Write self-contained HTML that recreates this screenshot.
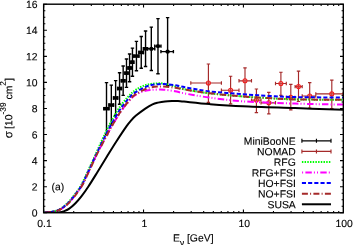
<!DOCTYPE html>
<html><head><meta charset="utf-8"><title>plot</title>
<style>html,body{margin:0;padding:0;background:#fff;width:353px;height:245px;overflow:hidden}
body{font-family:"Liberation Sans",sans-serif;position:relative}</style></head>
<body>
<svg width="353" height="245" viewBox="0 0 353 245" style="display:block;position:absolute;left:0;top:0">
<rect x="0" y="0" width="353" height="245" fill="#fff"/>
<defs><clipPath id="c"><rect x="43.65" y="4.20" width="299.65" height="208.55"/></clipPath></defs>
<path d="M43.65 212.75 h3.30 M343.30 212.75 h-3.30 M43.65 206.23 h1.70 M343.30 206.23 h-1.70 M43.65 199.72 h1.70 M343.30 199.72 h-1.70 M43.65 193.20 h1.70 M343.30 193.20 h-1.70 M43.65 186.68 h3.30 M343.30 186.68 h-3.30 M43.65 180.16 h1.70 M343.30 180.16 h-1.70 M43.65 173.65 h1.70 M343.30 173.65 h-1.70 M43.65 167.13 h1.70 M343.30 167.13 h-1.70 M43.65 160.61 h3.30 M343.30 160.61 h-3.30 M43.65 154.10 h1.70 M343.30 154.10 h-1.70 M43.65 147.58 h1.70 M343.30 147.58 h-1.70 M43.65 141.06 h1.70 M343.30 141.06 h-1.70 M43.65 134.54 h3.30 M343.30 134.54 h-3.30 M43.65 128.03 h1.70 M343.30 128.03 h-1.70 M43.65 121.51 h1.70 M343.30 121.51 h-1.70 M43.65 114.99 h1.70 M343.30 114.99 h-1.70 M43.65 108.47 h3.30 M343.30 108.47 h-3.30 M43.65 101.96 h1.70 M343.30 101.96 h-1.70 M43.65 95.44 h1.70 M343.30 95.44 h-1.70 M43.65 88.92 h1.70 M343.30 88.92 h-1.70 M43.65 82.41 h3.30 M343.30 82.41 h-3.30 M43.65 75.89 h1.70 M343.30 75.89 h-1.70 M43.65 69.37 h1.70 M343.30 69.37 h-1.70 M43.65 62.85 h1.70 M343.30 62.85 h-1.70 M43.65 56.34 h3.30 M343.30 56.34 h-3.30 M43.65 49.82 h1.70 M343.30 49.82 h-1.70 M43.65 43.30 h1.70 M343.30 43.30 h-1.70 M43.65 36.79 h1.70 M343.30 36.79 h-1.70 M43.65 30.27 h3.30 M343.30 30.27 h-3.30 M43.65 23.75 h1.70 M343.30 23.75 h-1.70 M43.65 17.23 h1.70 M343.30 17.23 h-1.70 M43.65 10.72 h1.70 M343.30 10.72 h-1.70 M43.65 4.20 h3.30 M343.30 4.20 h-3.30 M43.65 212.75 v-3.30 M43.65 4.20 v3.30 M73.72 212.75 v-1.70 M73.72 4.20 v1.70 M91.31 212.75 v-1.70 M91.31 4.20 v1.70 M103.79 212.75 v-1.70 M103.79 4.20 v1.70 M113.47 212.75 v-1.70 M113.47 4.20 v1.70 M121.37 212.75 v-1.70 M121.37 4.20 v1.70 M128.06 212.75 v-1.70 M128.06 4.20 v1.70 M133.85 212.75 v-1.70 M133.85 4.20 v1.70 M138.96 212.75 v-1.70 M138.96 4.20 v1.70 M143.53 212.75 v-3.30 M143.53 4.20 v3.30 M173.60 212.75 v-1.70 M173.60 4.20 v1.70 M191.19 212.75 v-1.70 M191.19 4.20 v1.70 M203.67 212.75 v-1.70 M203.67 4.20 v1.70 M213.35 212.75 v-1.70 M213.35 4.20 v1.70 M221.26 212.75 v-1.70 M221.26 4.20 v1.70 M227.94 212.75 v-1.70 M227.94 4.20 v1.70 M233.74 212.75 v-1.70 M233.74 4.20 v1.70 M238.85 212.75 v-1.70 M238.85 4.20 v1.70 M243.42 212.75 v-3.30 M243.42 4.20 v3.30 M273.48 212.75 v-1.70 M273.48 4.20 v1.70 M291.07 212.75 v-1.70 M291.07 4.20 v1.70 M303.55 212.75 v-1.70 M303.55 4.20 v1.70 M313.23 212.75 v-1.70 M313.23 4.20 v1.70 M321.14 212.75 v-1.70 M321.14 4.20 v1.70 M327.83 212.75 v-1.70 M327.83 4.20 v1.70 M333.62 212.75 v-1.70 M333.62 4.20 v1.70 M338.73 212.75 v-1.70 M338.73 4.20 v1.70" stroke="#000" stroke-width="1.1" fill="none"/>
<g clip-path="url(#c)"><path d="M106.51 82.64 V134.70 M104.81 82.64 h3.40 M104.81 134.70 h3.40 M103.88 108.67 H108.99 M103.88 106.97 v3.40 M108.99 106.97 v3.40 M111.32 85.10 V125.04 M109.62 85.10 h3.40 M109.62 125.04 h3.40 M108.97 105.07 H113.54 M108.97 103.37 v3.40 M113.54 103.37 v3.40 M115.64 80.59 V115.27 M113.94 80.59 h3.40 M113.94 115.27 h3.40 M113.52 97.93 H117.65 M113.52 96.23 v3.40 M117.65 96.23 v3.40 M119.56 72.77 V104.29 M117.86 72.77 h3.40 M117.86 104.29 h3.40 M117.63 88.53 H121.41 M117.63 86.83 v3.40 M121.41 86.83 v3.40 M123.16 66.06 V95.36 M121.46 66.06 h3.40 M121.46 95.36 h3.40 M121.39 80.71 H124.86 M121.39 79.01 v3.40 M124.86 79.01 v3.40 M126.49 58.96 V87.35 M124.79 58.96 h3.40 M124.79 87.35 h3.40 M124.85 73.15 H128.06 M124.85 71.45 v3.40 M128.06 71.45 v3.40 M129.57 54.06 V81.82 M127.87 54.06 h3.40 M127.87 81.82 h3.40 M128.05 67.94 H131.04 M128.05 66.24 v3.40 M131.04 66.24 v3.40 M132.45 48.15 V76.25 M130.75 48.15 h3.40 M130.75 76.25 h3.40 M131.03 62.20 H133.83 M131.03 60.50 v3.40 M133.83 60.50 v3.40 M136.44 41.36 V70.79 M134.74 41.36 h3.40 M134.74 70.79 h3.40 M133.81 56.08 H138.92 M133.81 54.38 v3.40 M138.92 54.38 v3.40 M141.24 36.56 V68.29 M139.54 36.56 h3.40 M139.54 68.29 h3.40 M138.89 52.43 H143.46 M138.89 50.73 v3.40 M143.46 50.73 v3.40 M145.56 31.06 V66.49 M143.86 31.06 h3.40 M143.86 66.49 h3.40 M143.44 48.78 H147.58 M143.44 47.08 v3.40 M147.58 47.08 v3.40 M151.32 27.11 V70.44 M149.62 27.11 h3.40 M149.62 70.44 h3.40 M147.55 48.78 H154.80 M147.55 47.08 v3.40 M154.80 47.08 v3.40 M157.98 18.59 V73.75 M156.28 18.59 h3.40 M156.28 73.75 h3.40 M154.76 46.17 H160.97 M154.76 44.47 v3.40 M160.97 44.47 v3.40 M167.61 17.59 V85.70 M165.91 17.59 h3.40 M165.91 85.70 h3.40 M160.93 51.65 H173.40 M160.93 49.95 v3.40 M173.40 49.95 v3.40" stroke="#000" stroke-width="1.4" fill="none"/><g fill="#000"><rect x="103.28" y="106.92" width="6.31" height="3.5"/><rect x="108.37" y="103.32" width="5.77" height="3.5"/><rect x="112.92" y="96.18" width="5.33" height="3.5"/><rect x="117.03" y="86.78" width="4.97" height="3.5"/><rect x="120.79" y="78.96" width="4.67" height="3.5"/><rect x="124.25" y="71.40" width="4.41" height="3.5"/><rect x="127.45" y="66.19" width="4.19" height="3.5"/><rect x="130.43" y="60.45" width="4.00" height="3.5"/><rect x="133.21" y="54.33" width="6.31" height="3.5"/><rect x="138.29" y="50.68" width="5.77" height="3.5"/><rect x="142.84" y="47.03" width="5.33" height="3.5"/><rect x="149.37" y="46.93" width="3.9" height="3.7" rx="1.2"/><rect x="156.03" y="44.32" width="3.9" height="3.7" rx="1.2"/><rect x="165.66" y="49.80" width="3.9" height="3.7" rx="1.2"/></g></g>
<g clip-path="url(#c)"><path d="M208.40 64.00 V102.30 M206.70 64.00 h3.40 M206.70 102.30 h3.40 M190.80 83.00 H221.40 M190.80 81.30 v3.40 M221.40 81.30 v3.40 M230.60 76.20 V103.80 M228.90 76.20 h3.40 M228.90 103.80 h3.40 M221.40 90.20 H239.00 M221.40 88.50 v3.40 M239.00 88.50 v3.40 M245.00 67.90 V94.80 M243.30 67.90 h3.40 M243.30 94.80 h3.40 M239.00 80.80 H251.50 M239.00 79.10 v3.40 M251.50 79.10 v3.40 M256.40 89.00 V112.60 M254.70 89.00 h3.40 M254.70 112.60 h3.40 M251.50 100.10 H261.00 M251.50 98.40 v3.40 M261.00 98.40 v3.40 M268.80 92.40 V113.80 M267.10 92.40 h3.40 M267.10 113.80 h3.40 M261.00 102.80 H275.50 M261.00 101.10 v3.40 M275.50 101.10 v3.40 M280.90 72.20 V95.40 M279.20 72.20 h3.40 M279.20 95.40 h3.40 M275.50 83.50 H286.30 M275.50 81.80 v3.40 M286.30 81.80 v3.40 M290.80 84.30 V109.80 M289.10 84.30 h3.40 M289.10 109.80 h3.40 M286.30 97.40 H294.90 M286.30 95.70 v3.40 M294.90 95.70 v3.40 M298.50 71.10 V101.50 M296.80 71.10 h3.40 M296.80 101.50 h3.40 M295.10 86.60 H302.20 M295.10 84.90 v3.40 M302.20 84.90 v3.40 M309.70 82.60 V108.00 M308.00 82.60 h3.40 M308.00 108.00 h3.40 M302.20 96.00 H315.80 M302.20 94.30 v3.40 M315.80 94.30 v3.40 M331.80 80.10 V108.60 M330.10 80.10 h3.40 M330.10 108.60 h3.40 M315.80 93.90 H343.00 M315.80 92.20 v3.40 M343.00 92.20 v3.40" stroke="#a52a2a" stroke-width="1.15" fill="none"/>
<g stroke="#ee2020" stroke-width="1.1" fill="#ff6060" fill-opacity="0.35"><circle cx="208.40" cy="83.00" r="2.0"/><circle cx="230.60" cy="90.20" r="2.0"/><circle cx="245.00" cy="80.80" r="2.0"/><circle cx="256.40" cy="100.10" r="2.0"/><circle cx="268.80" cy="102.80" r="2.0"/><circle cx="280.90" cy="83.50" r="2.0"/><circle cx="290.80" cy="97.40" r="2.0"/><circle cx="298.50" cy="86.60" r="2.0"/><circle cx="309.70" cy="96.00" r="2.0"/><circle cx="331.80" cy="93.90" r="2.0"/></g></g>
<g clip-path="url(#c)" fill="none" stroke-width="2">
<path d="M43.85 212.50 C44.91 212.42 48.09 212.32 50.20 212.00 C52.31 211.68 54.42 211.40 56.50 210.60 C58.58 209.80 60.63 208.70 62.70 207.20 C64.77 205.70 66.82 203.83 68.90 201.60 C70.98 199.37 73.15 196.55 75.20 193.80 C77.25 191.05 79.07 188.92 81.20 185.10 C83.33 181.28 85.70 175.78 88.00 170.90 C90.30 166.02 92.73 160.78 95.00 155.80 C97.27 150.82 99.30 145.97 101.60 141.00 C103.90 136.03 106.20 131.00 108.80 126.00 C111.40 121.00 114.88 114.83 117.20 111.00 C119.52 107.17 120.87 105.40 122.70 103.00 C124.53 100.60 126.48 98.45 128.20 96.60 C129.92 94.75 131.25 93.33 133.00 91.90 C134.75 90.47 136.72 89.10 138.70 88.00 C140.68 86.90 142.82 85.98 144.90 85.30 C146.98 84.62 149.12 84.22 151.20 83.90 C153.28 83.58 155.27 83.43 157.40 83.40 C159.53 83.37 161.07 83.20 164.00 83.70 C166.93 84.20 171.50 85.45 175.00 86.40 C178.50 87.35 179.23 88.25 185.00 89.40 C190.77 90.55 199.93 92.12 209.60 93.30 C219.27 94.48 233.27 95.70 243.00 96.50 C252.73 97.30 259.33 97.62 268.00 98.10 C276.67 98.58 282.45 99.12 295.00 99.40 C307.55 99.68 335.25 99.73 343.30 99.80" stroke="#00ff00" stroke-dasharray="1.45 1.25"/>
<path d="M44.85 212.50 C45.91 212.42 49.09 212.32 51.20 212.00 C53.31 211.68 55.42 211.40 57.50 210.60 C59.58 209.80 61.63 208.70 63.70 207.20 C65.77 205.70 67.82 203.83 69.90 201.60 C71.98 199.37 74.15 196.55 76.20 193.80 C78.25 191.05 80.07 188.92 82.20 185.10 C84.33 181.28 86.70 175.78 89.00 170.90 C91.30 166.02 93.55 160.77 96.00 155.80 C98.45 150.83 101.07 146.03 103.70 141.10 C106.33 136.17 108.92 131.17 111.80 126.20 C114.68 121.23 118.43 115.10 121.00 111.30 C123.57 107.50 125.17 105.85 127.20 103.40 C129.23 100.95 131.15 98.37 133.20 96.60 C135.25 94.83 137.30 93.82 139.50 92.80 C141.70 91.78 144.45 90.98 146.40 90.50 C148.35 90.02 149.37 90.05 151.20 89.90 C153.03 89.75 155.27 89.63 157.40 89.60 C159.53 89.57 161.07 89.43 164.00 89.70 C166.93 89.97 171.50 90.57 175.00 91.20 C178.50 91.83 179.23 92.43 185.00 93.50 C190.77 94.57 199.93 96.30 209.60 97.60 C219.27 98.90 228.77 100.30 243.00 101.30 C257.23 102.30 278.28 103.05 295.00 103.60 C311.72 104.15 335.25 104.43 343.30 104.60" stroke="#ff00ff" stroke-dasharray="6.4 2.1 1 2.1 1 2.3"/>
<path d="M44.45 212.50 C45.51 212.42 48.69 212.32 50.80 212.00 C52.91 211.68 55.02 211.40 57.10 210.60 C59.18 209.80 61.23 208.70 63.30 207.20 C65.37 205.70 67.42 203.83 69.50 201.60 C71.58 199.37 73.75 196.55 75.80 193.80 C77.85 191.05 79.67 188.92 81.80 185.10 C83.93 181.28 86.30 175.78 88.60 170.90 C90.90 166.02 93.25 160.78 95.60 155.80 C97.95 150.82 100.23 145.97 102.70 141.00 C105.17 136.03 107.67 131.00 110.40 126.00 C113.13 121.00 116.68 114.83 119.10 111.00 C121.52 107.17 122.98 105.47 124.90 103.00 C126.82 100.53 129.22 97.70 130.60 96.20 C131.98 94.70 131.72 95.05 133.20 94.00 C134.68 92.95 137.30 91.13 139.50 89.90 C141.70 88.67 144.45 87.40 146.40 86.60 C148.35 85.80 149.37 85.48 151.20 85.10 C153.03 84.72 155.27 84.47 157.40 84.30 C159.53 84.13 161.07 83.93 164.00 84.10 C166.93 84.27 171.50 84.77 175.00 85.30 C178.50 85.83 179.23 86.28 185.00 87.30 C190.77 88.32 199.93 90.25 209.60 91.40 C219.27 92.55 233.27 93.45 243.00 94.20 C252.73 94.95 259.33 95.42 268.00 95.90 C276.67 96.38 282.45 96.83 295.00 97.10 C307.55 97.37 335.25 97.43 343.30 97.50" stroke="#0000ff" stroke-dasharray="4.1 2.1"/>
<path d="M45.05 212.50 C46.11 212.42 49.29 212.32 51.40 212.00 C53.51 211.68 55.62 211.40 57.70 210.60 C59.78 209.80 61.83 208.70 63.90 207.20 C65.97 205.70 68.02 203.83 70.10 201.60 C72.18 199.37 74.35 196.55 76.40 193.80 C78.45 191.05 80.27 188.92 82.40 185.10 C84.53 181.28 86.90 175.78 89.20 170.90 C91.50 166.02 93.77 160.78 96.20 155.80 C98.63 150.82 101.18 145.97 103.80 141.00 C106.42 136.03 109.03 131.00 111.90 126.00 C114.77 121.00 118.47 114.83 121.00 111.00 C123.53 107.17 125.07 105.48 127.10 103.00 C129.13 100.52 131.13 97.92 133.20 96.10 C135.27 94.28 137.30 93.33 139.50 92.10 C141.70 90.87 144.45 89.50 146.40 88.70 C148.35 87.90 149.37 87.65 151.20 87.30 C153.03 86.95 155.27 86.73 157.40 86.60 C159.53 86.47 161.07 86.30 164.00 86.50 C166.93 86.70 171.50 87.30 175.00 87.80 C178.50 88.30 179.23 88.58 185.00 89.50 C190.77 90.42 199.93 92.13 209.60 93.30 C219.27 94.47 233.27 95.70 243.00 96.50 C252.73 97.30 259.33 97.62 268.00 98.10 C276.67 98.58 282.45 99.12 295.00 99.40 C307.55 99.68 335.25 99.73 343.30 99.80" stroke="#a52a2a" stroke-dasharray="6 2.2 1 2.3"/>
<path d="M43.85 212.75 C45.21 212.75 49.98 212.77 52.00 212.75 C54.02 212.73 54.67 212.72 56.00 212.65 C57.33 212.58 58.75 212.51 60.00 212.30 C61.25 212.09 62.02 211.97 63.50 211.40 C64.98 210.83 66.95 210.22 68.90 208.90 C70.85 207.58 73.12 205.58 75.20 203.50 C77.28 201.42 79.20 199.23 81.40 196.40 C83.60 193.57 85.72 190.57 88.40 186.50 C91.08 182.43 94.43 176.95 97.50 172.00 C100.57 167.05 103.63 161.92 106.80 156.80 C109.97 151.68 113.20 146.40 116.50 141.30 C119.80 136.20 124.10 129.75 126.60 126.20 C129.10 122.65 129.93 121.77 131.50 120.00 C133.07 118.23 133.70 117.50 136.00 115.60 C138.30 113.70 142.55 110.48 145.30 108.60 C148.05 106.72 150.38 105.30 152.50 104.30 C154.62 103.30 155.92 103.08 158.00 102.60 C160.08 102.12 162.67 101.67 165.00 101.40 C167.33 101.13 169.83 101.06 172.00 101.00 C174.17 100.94 176.00 100.95 178.00 101.05 C180.00 101.15 178.73 101.09 184.00 101.60 C189.27 102.11 199.77 103.32 209.60 104.10 C219.43 104.88 228.77 105.63 243.00 106.30 C257.23 106.97 278.28 107.53 295.00 108.10 C311.72 108.67 335.25 109.43 343.30 109.70" stroke="#000"/>
</g>
<rect x="43.65" y="4.20" width="299.65" height="208.55" fill="none" stroke="#000" stroke-width="1.4"/>
<g font-family="'Liberation Sans', sans-serif" font-size="10.40px" fill="#000" stroke="#000" stroke-width="0.12" text-rendering="geometricPrecision" style="filter:grayscale(1)">
<text transform="translate(295.80,144.70) rotate(0.03)" text-anchor="end">MiniBooNE</text>
<text transform="translate(295.80,155.28) rotate(0.03)" text-anchor="end">NOMAD</text>
<text transform="translate(295.80,165.86) rotate(0.03)" text-anchor="end">RFG</text>
<text transform="translate(295.80,176.44) rotate(0.03)" text-anchor="end">RFG+FSI</text>
<text transform="translate(295.80,187.02) rotate(0.03)" text-anchor="end">HO+FSI</text>
<text transform="translate(295.80,197.60) rotate(0.03)" text-anchor="end">NO+FSI</text>
<text transform="translate(295.80,208.18) rotate(0.03)" text-anchor="end">SUSA</text>
<text transform="translate(37.60,216.60) rotate(0.03)" text-anchor="end">0</text>
<text transform="translate(37.60,190.53) rotate(0.03)" text-anchor="end">2</text>
<text transform="translate(37.60,164.46) rotate(0.03)" text-anchor="end">4</text>
<text transform="translate(37.60,138.39) rotate(0.03)" text-anchor="end">6</text>
<text transform="translate(37.60,112.32) rotate(0.03)" text-anchor="end">8</text>
<text transform="translate(37.60,86.26) rotate(0.03)" text-anchor="end">10</text>
<text transform="translate(37.60,60.19) rotate(0.03)" text-anchor="end">12</text>
<text transform="translate(37.60,34.12) rotate(0.03)" text-anchor="end">14</text>
<text transform="translate(37.60,8.05) rotate(0.03)" text-anchor="end">16</text>
<text transform="translate(44.45,227.00) rotate(0.03)" text-anchor="middle">0.1</text>
<text transform="translate(144.33,227.00) rotate(0.03)" text-anchor="middle">1</text>
<text transform="translate(244.22,227.00) rotate(0.03)" text-anchor="middle">10</text>
<text transform="translate(344.10,227.00) rotate(0.03)" text-anchor="middle">100</text>
<text transform="translate(51.60,190.20) rotate(0.03)">(a)</text>
<text transform="translate(173.00,241.60) rotate(0.03)">E<tspan dy="3.8" font-size="8.3px">ν</tspan><tspan dy="-3.8"> [GeV]</tspan></text>
<text transform="translate(12.20,138.30) rotate(-89.97)"><tspan font-size="11.5px">σ</tspan><tspan dx="-0.6"> [10</tspan><tspan dy="-6.4" font-size="8.3px">-39</tspan><tspan dy="6.4"> cm</tspan><tspan dy="-6.4" font-size="8.3px">2</tspan><tspan dy="6.4">]</tspan></text>
</g>
<path d="M301.90 140.80 H331.00 M301.90 138.80 v4 M331.00 138.80 v4 M316.45 138.80 v4" stroke="#000" stroke-width="1.15" fill="none"/>
<path d="M301.90 151.38 H331.00 M301.90 149.38 v4 M331.00 149.38 v4 M316.45 149.38 v4" stroke="#a52a2a" stroke-width="1.15" fill="none"/>
<g fill="none" stroke-width="2">
<path d="M301.90 161.96 H331.00" stroke="#00ff00" stroke-dasharray="1.45 1.25"/>
<path d="M301.90 172.54 H331.00" stroke="#ff00ff" stroke-dasharray="6.4 2.1 1 2.1 1 2.3" stroke-dashoffset="11.4"/>
<path d="M301.90 183.12 H331.00" stroke="#0000ff" stroke-dasharray="4.1 2.1"/>
<path d="M301.90 193.70 H331.00" stroke="#a52a2a" stroke-dasharray="6 2.2 1 2.3"/>
<path d="M301.90 204.28 H331.00" stroke="#000"/>
</g>
</svg>
</body></html>
